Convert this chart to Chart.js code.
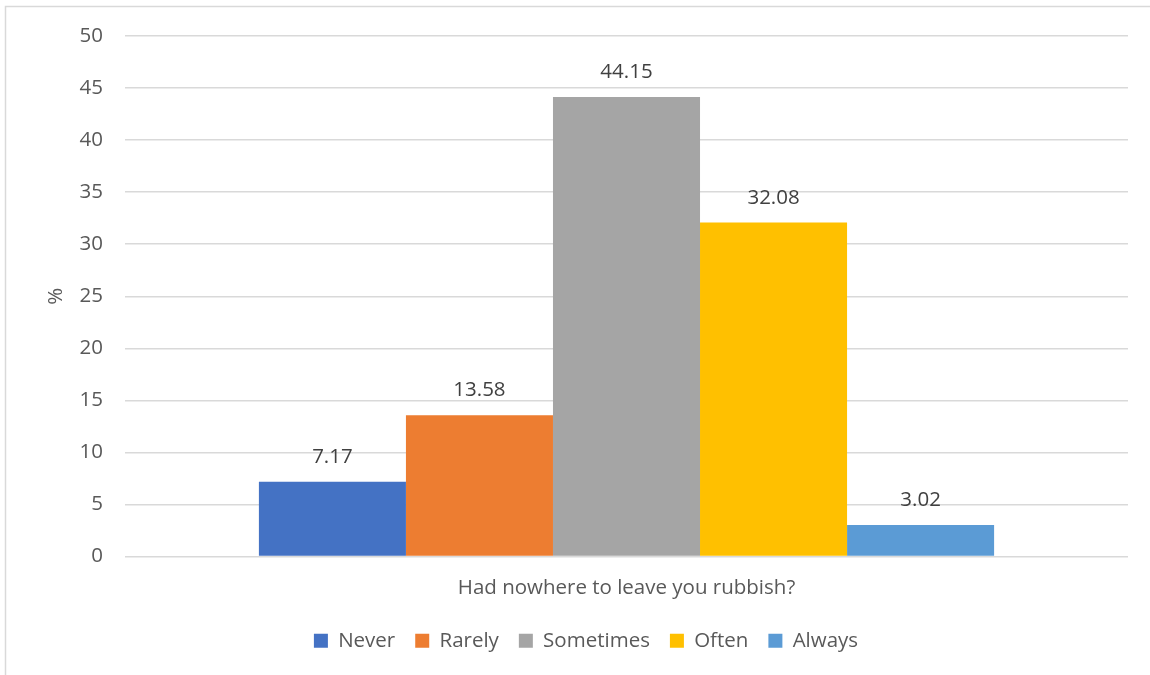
<!DOCTYPE html>
<html><head><meta charset="utf-8">
<script src="https://cdn.jsdelivr.net/npm/chart.js@4"></script>
<style>html,body{margin:0;padding:0;background:#fff;}#wrap{position:relative;width:1150px;height:675px;}</style>
</head><body><div id="wrap"><canvas id="c" width="1150" height="675"></canvas></div>
<script>
const categories = ["Had nowhere to leave you rubbish?"];
const seriesNames = ["Never", "Rarely", "Sometimes", "Often", "Always"];
const seriesValues = [7.17, 13.58, 44.15, 32.08, 3.02];
const seriesColors = ["#4472C4", "#ED7D31", "#A5A5A5", "#FFC000", "#5B9BD5"];
const yTicks = [0, 5, 10, 15, 20, 25, 30, 35, 40, 45, 50];

const FONT = "'Open Sans', 'Noto Sans', sans-serif";
const FS = 20.5;

const framePlugin = {
  id: 'frame',
  afterLayout(chart) {
    if (chart.legend) {
      chart.legend.left += 22;
      chart.legend.right += 22;
      chart.legend.top += 2;
      chart.legend.bottom += 2;
    }
  },
  beforeDraw(chart) {
    const ctx = chart.ctx;
    ctx.save();
    ctx.fillStyle = '#fff';
    ctx.fillRect(0, 0, chart.width, chart.height);
    ctx.strokeStyle = '#D9D9D9';
    ctx.lineWidth = 1.5;
    ctx.beginPath();
    ctx.moveTo(5.5, 700);
    ctx.lineTo(5.5, 6.5);
    ctx.lineTo(1200, 6.5);
    ctx.stroke();
    ctx.restore();
  }
};

const labelPlugin = {
  id: 'valueLabels',
  afterDatasetsDraw(chart) {
    const ctx = chart.ctx;
    ctx.save();
    ctx.font = FS + "px " + FONT;
    ctx.fillStyle = '#404040';
    ctx.textAlign = 'center';
    ctx.textBaseline = 'alphabetic';
    chart.data.datasets.forEach((ds, i) => {
      const meta = chart.getDatasetMeta(i);
      meta.data.forEach((el, j) => {
        ctx.fillText(ds.data[j].toFixed(2), el.x, el.y - 19);
      });
    });
    ctx.restore();
  }
};

new Chart(document.getElementById('c'), {
  type: 'bar',
  data: {
    labels: categories,
    datasets: seriesNames.map((n, i) => ({
      label: n,
      data: [seriesValues[i]],
      backgroundColor: seriesColors[i],
      borderWidth: 0,
      categoryPercentage: 0.733,
      barPercentage: 1.0
    }))
  },
  options: {
    responsive: false,
    animation: false,
    layout: { padding: { left: 0, right: 22, top: 36, bottom: 16 } },
    plugins: {
      tooltip: { enabled: false },
      legend: {
        position: 'bottom',
        labels: {
          boxWidth: 14, boxHeight: 14,
          color: '#595959',
          font: { family: FONT, size: FS },
          padding: 20
        }
      }
    },
    scales: {
      x: {
        grid: { display: false, drawTicks: false },
        border: { display: false },
        ticks: { color: '#595959', font: { family: FONT, size: FS }, padding: 19 },
        afterFit(s) { s.height = 52; }
      },
      y: {
        min: 0, max: 50,
        afterBuildTicks(s) { s.ticks = yTicks.map(v => ({ value: v })); },
        grid: { color: '#D9D9D9', lineWidth: 1.5, drawTicks: false },
        border: { display: false },
        ticks: { color: '#595959', font: { family: FONT, size: FS }, padding: 22 },
        title: { display: true, text: '%', color: '#595959', font: { family: FONT, size: FS }, padding: { top: 44, bottom: 0 } },
        afterFit(s) { s.width = 125; }
      }
    }
  },
  plugins: [framePlugin, labelPlugin]
});
</script>
</body></html>
